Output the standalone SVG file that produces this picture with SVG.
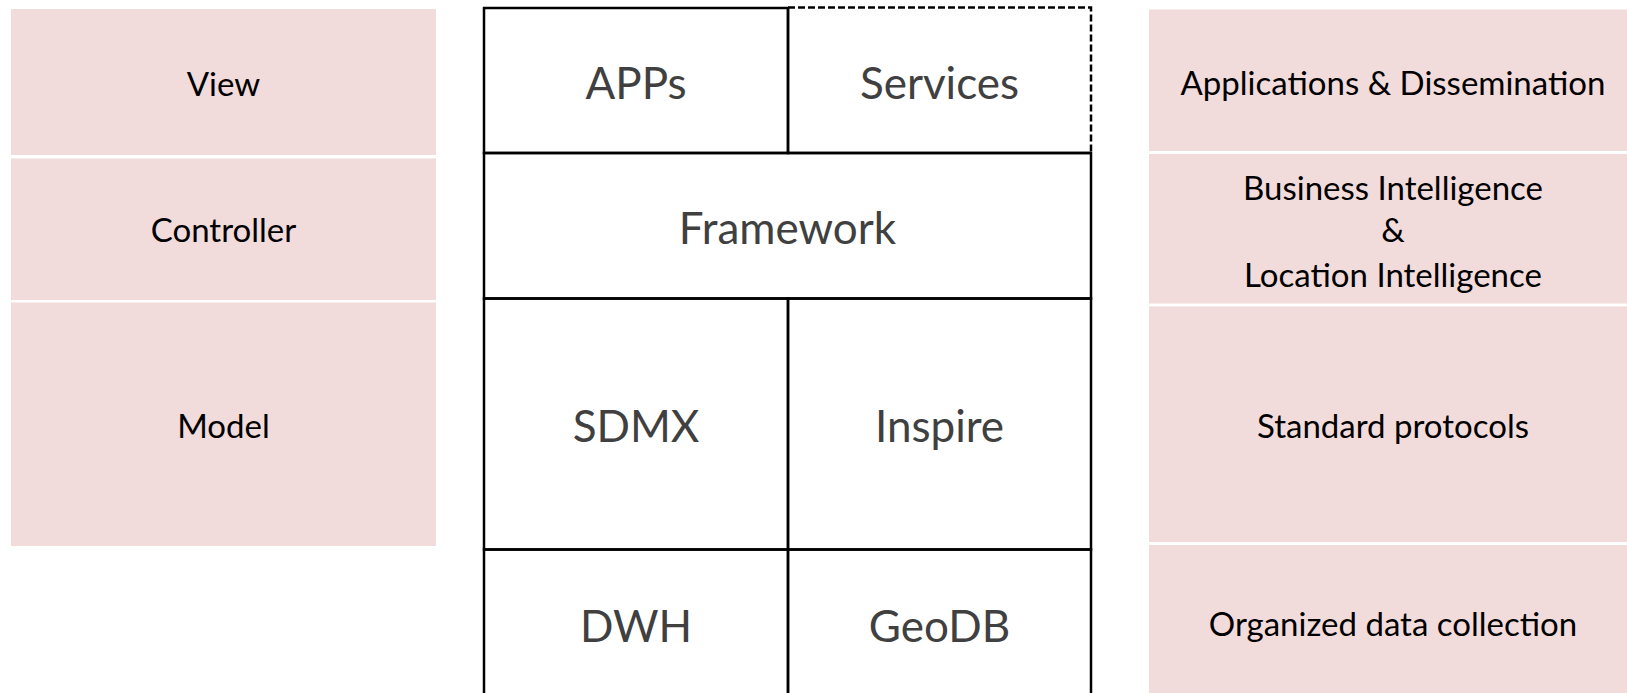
<svg xmlns="http://www.w3.org/2000/svg" width="1627" height="693" viewBox="0 0 1627 693">
<style>
.band{fill:#F2DCDB;}
.cell{fill:none;stroke:#000;stroke-width:2.5;}
.dash{fill:none;stroke:#000;stroke-width:2.5;stroke-dasharray:7 3;}
.side{font-family:Lato,"Liberation Sans",sans-serif;font-size:33px;fill:#000;text-anchor:middle;}
.main{font-family:Lato,"Liberation Sans",sans-serif;font-size:44px;fill:#404040;text-anchor:middle;}
</style>
<rect width="1627" height="693" fill="#fff"/>
<g id="view"><rect class="band" x="11" y="9" width="425" height="146"/><text class="side" x="223.5" y="96">View</text></g>
<g id="controller"><rect class="band" x="11" y="158.5" width="425" height="141.5"/><text class="side" x="223.5" y="242">Controller</text></g>
<g id="model"><rect class="band" x="11" y="302.5" width="425" height="243.5"/><text class="side" x="223.5" y="438">Model</text></g>
<g id="apps-dissemination"><rect class="band" x="1149" y="9.5" width="478" height="141.5"/><text class="side" x="1393" y="95">Applications &amp; Dissemination</text></g>
<g id="bi-li"><rect class="band" x="1149" y="154" width="478" height="149.5"/><text class="side" x="1393" y="200">Business Intelligence</text><text class="side" x="1393" y="242">&amp;</text><text class="side" x="1393" y="287">Location Intelligence</text></g>
<g id="standard-protocols"><rect class="band" x="1149" y="306.5" width="478" height="235.5"/><text class="side" x="1393" y="438">Standard protocols</text></g>
<g id="organized-data"><rect class="band" x="1149" y="545" width="478" height="150"/><text class="side" x="1393" y="636">Organized data collection</text></g>
<g id="apps"><rect class="cell" x="484" y="8" width="304" height="145"/><text class="main" x="636" y="98.5">APPs</text></g>
<g id="services"><path class="cell" d="M788 8 V153 H1091"/><path class="dash" d="M788 7.5 H1091 V153"/><text class="main" x="939.5" y="98.5">Services</text></g>
<g id="framework"><rect class="cell" x="484" y="153" width="607" height="145.5"/><text class="main" x="787.5" y="244">Framework</text></g>
<g id="sdmx"><rect class="cell" x="484" y="298.5" width="304" height="251"/><text class="main" x="636" y="442">SDMX</text></g>
<g id="inspire"><rect class="cell" x="788" y="298.5" width="303" height="251"/><text class="main" x="939.5" y="442">Inspire</text></g>
<g id="dwh"><rect class="cell" x="484" y="549.5" width="304" height="160"/><text class="main" x="636" y="642">DWH</text></g>
<g id="geodb"><rect class="cell" x="788" y="549.5" width="303" height="160"/><text class="main" x="939.5" y="642">GeoDB</text></g>
<g id="connectors"></g>
</svg>
